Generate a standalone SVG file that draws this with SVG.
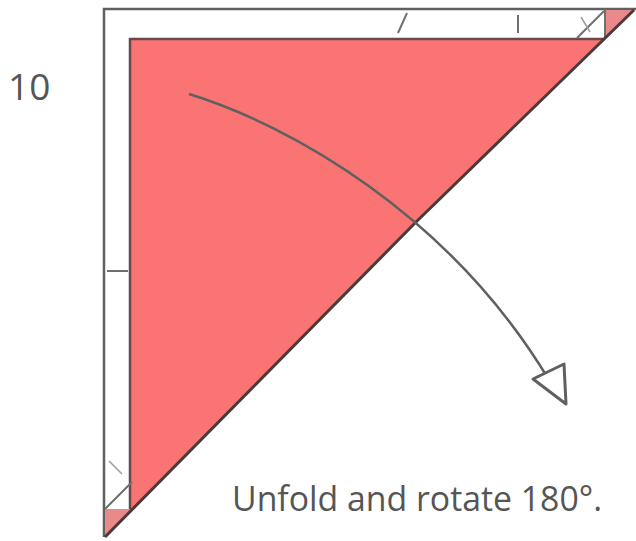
<svg xmlns="http://www.w3.org/2000/svg" width="636" height="541" viewBox="0 0 636 541">
<style>
.fold{fill:#fa7473;stroke:none}
.foldedge{fill:none;stroke:#6a4a48;stroke-width:2.5}
.corner{fill:#e88a8c;stroke:none}
.edge{fill:none;stroke:#5f6060;stroke-width:2.5}
.thin{fill:none;stroke:#6d7070;stroke-width:2}
.faint{fill:none;stroke:#9aa0a0;stroke-width:1.5}
text{font-family:"Open Sans","Noto Sans",sans-serif;fill:#555}
</style>
<rect width="636" height="541" fill="#fff"/>
<g id="sheet">
<path class="edge" d="M104 537V9H636"/>
<path class="thin" d="M605 9V39M132 484V510"/>
</g>
<g id="main-triangle">
<path class="fold" d="M130 39L605 39L416 222L130 512Z"/>
<path class="foldedge" d="M605 39H130V512"/>
</g>
<g id="corner-top"><path class="corner" d="M606 10L634 10L606 38Z"/></g>
<g id="corner-bottom"><path class="corner" d="M105 509L133 509L105 537Z"/></g>
<g id="diagonal"><path fill="none" stroke="#4a3a3a" stroke-width="3" d="M634 10L416 222L105 537"/></g>
<g id="marks">
<path class="thin" d="M577 38L604 11M105 509L132 482"/>
<path class="faint" d="M581 17L590 32M109 461L122 474"/>
<path class="thin" d="M398 33L407 13M518 15V33M107 271H128"/>
</g>
<g id="connectors">
<path class="edge" d="M189 94C290 125 450 215 549 380"/>
<path fill="#fff" stroke="#5f6060" stroke-width="3" stroke-linejoin="round" d="M533 379L564 364L566 404Z"/>
</g>
<g id="step-number"><text x="8" y="100" font-size="37">10</text></g>
<g id="caption"><text x="232" y="511" font-size="33.8">Unfold and rotate 180°.</text></g>
</svg>
